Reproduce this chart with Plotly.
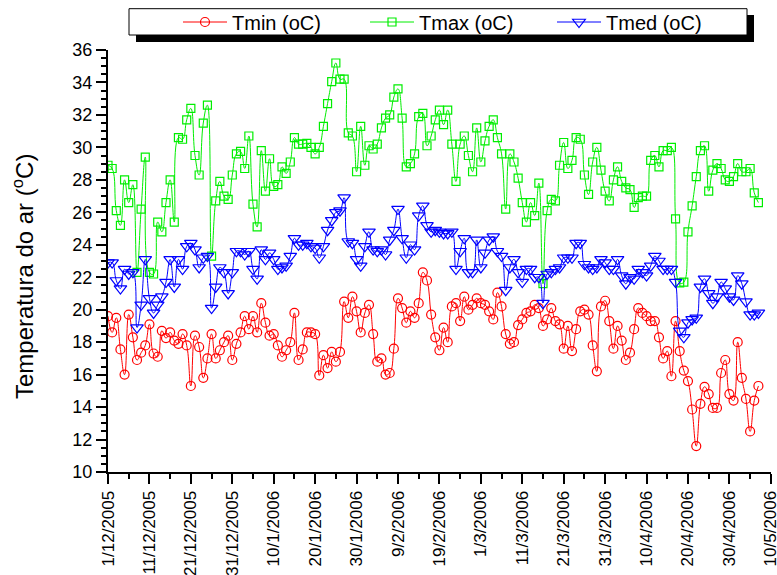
import pandas as pd
import plotly.graph_objects as go

# ---------------- data ----------------
start_date = "2005-12-01"
tmin = [19.6, 18.6, 19.5, 17.55, 16.0, 19.7, 18.3, 16.9, 17.35, 17.8,
        19.1, 17.3, 17.1, 18.7, 18.25, 18.6, 18.1, 17.9, 18.5, 17.8,
        15.3, 18.4, 17.7, 15.8, 17.0, 18.5, 17.0, 17.5, 18.0, 18.4,
        16.9, 17.9, 18.6, 19.6, 18.8, 19.6, 18.6, 20.4, 19.2, 18.4,
        18.5, 17.8, 17.1, 17.5, 18.0, 19.8, 16.9, 17.55, 18.6, 18.6,
        18.5, 15.95, 17.2, 16.4, 17.4, 16.8, 17.4, 20.5, 19.5, 20.8,
        19.9, 18.6, 19.8, 20.3, 18.5, 16.8, 17.0, 16.0, 16.1, 17.6,
        20.7, 20.1, 19.2, 19.9, 19.5, 20.4, 22.3, 21.8, 19.7, 18.3,
        17.5, 18.9, 18.0, 20.2, 20.4, 19.3, 20.8, 20.0, 20.3, 20.7,
        20.4, 20.3, 19.9, 19.4, 21.05, 20.2, 18.5, 17.9, 18.0, 19.05,
        19.4, 19.8, 19.9, 20.3, 20.1, 19.0, 19.4, 20.1, 19.3, 19.1,
        17.6, 19.0, 17.45, 18.8, 19.9, 20.0, 19.7, 17.8, 16.2, 20.2,
        20.55, 19.3, 17.6, 19.0, 18.1, 16.9, 17.35, 18.8, 20.1, 19.8,
        19.6, 19.3, 19.3, 18.3, 17.0, 17.45, 15.9, 19.3, 17.45, 16.25,
        15.6, 13.85, 11.6, 14.2, 15.25, 14.8, 13.95, 13.95, 16.1, 16.9,
        14.8, 14.4, 18.0, 15.8, 14.5, 12.5, 14.4, 15.3]

tmax = [28.9, 28.7, 26.1, 25.2, 28.0, 26.6, 27.7, 22.3, 26.2, 29.4,
        22.3, 22.2, 25.4, 24.8, 26.6, 28.0, 25.4, 30.6, 30.5, 31.7,
        32.4, 29.5, 28.3, 31.5, 32.6, 23.3, 26.7, 27.9, 27.0, 26.8,
        28.3, 29.6, 29.75, 28.7, 30.7, 26.5, 25.1, 29.8, 27.3, 29.3,
        27.6, 27.7, 28.8, 28.4, 29.1, 30.6, 30.2, 30.2, 30.25, 30.0,
        29.6, 30.0, 31.3, 32.7, 34.05, 35.2, 34.2, 34.2, 30.9, 30.7,
        28.5, 31.3, 28.9, 30.1, 29.9, 30.2, 31.2, 31.8, 32.0, 33.1,
        33.6, 31.8, 28.8, 29.0, 29.6, 31.9, 32.1, 30.1, 30.7, 31.7,
        32.3, 31.4, 32.3, 30.2, 27.9, 30.2, 30.7, 29.5, 28.5, 31.2,
        29.1, 30.4, 31.3, 31.7, 30.6, 29.6, 26.2, 29.6, 29.1, 28.1,
        26.6, 25.4, 26.6, 25.8, 27.8, 21.6, 26.1, 26.8, 26.7, 28.9,
        30.3, 28.7, 29.2, 30.6, 30.5, 28.3, 27.1, 29.1, 30.0, 28.6,
        27.3, 26.7, 28.0, 28.8, 27.9, 27.5, 27.4, 26.3, 26.9, 27.0,
        27.0, 29.2, 29.5, 28.8, 29.8, 29.8, 30.0, 25.6, 21.65, 21.7,
        24.8, 26.4, 28.2, 29.8, 30.1, 27.3, 28.6, 29.0, 28.7, 28.0,
        27.9, 28.2, 29.0, 28.5, 28.5, 28.7, 27.2, 26.6]

tmed = [22.9, 22.9, 21.8, 21.3, 22.5, 22.2, 22.3, 18.9, 20.3, 23.1,
        20.7, 19.8, 20.3, 20.8, 21.7, 23.1, 21.4, 23.1, 22.5, 23.9,
        24.1, 23.7, 22.6, 23.2, 23.3, 20.1, 21.4, 22.6, 22.3, 21.0,
        22.3, 23.6, 23.6, 23.4, 23.6, 22.5, 21.9, 23.7, 23.1, 23.5,
        23.1, 22.5, 22.6, 22.7, 23.3, 24.4, 24.0, 24.0, 24.1, 23.9,
        23.8, 23.2, 23.9, 24.9, 25.5, 26.0, 26.1, 26.9, 24.2, 24.1,
        23.1, 22.7, 23.9, 24.8, 23.7, 23.6, 23.7, 23.4, 24.3, 24.9,
        26.2, 24.4, 23.2, 24.0, 23.7, 25.8, 26.4, 25.2, 24.8, 24.9,
        24.8, 24.7, 24.7, 24.8, 22.5, 23.6, 24.4, 22.3, 22.3, 24.3,
        22.6, 23.5, 24.3, 24.5, 23.6, 23.3, 21.2, 22.6, 23.1, 22.3,
        21.7, 22.5, 22.5, 22.0, 22.0, 20.4, 22.2, 22.3, 22.5, 22.6,
        23.2, 23.2, 23.2, 24.1, 24.1, 22.8, 22.6, 22.5, 22.6, 23.1,
        22.9, 22.5, 22.5, 23.1, 22.1, 21.6, 22.0, 21.9, 22.5, 22.3,
        22.1, 22.7, 23.3, 23.0, 22.5, 22.5, 22.5, 21.7, 18.7, 18.3,
        19.2, 19.4, 19.5, 21.4, 21.9, 21.0, 20.4, 20.8, 21.7, 21.3,
        20.8, 20.6, 22.1, 21.6, 20.5, 19.7, 19.7, 19.8]

series_names = ["Tmin (oC)", "Tmax (oC)", "Tmed (oC)"]
x_first_tick = "2005-12-01"
x_last_tick = "2006-05-10"
y_range = [10, 36]
y_title = "Temperatura do ar (<sup>o</sup>C)"

dates = pd.date_range(start_date, periods=len(tmin), freq="D")
tick_dates = pd.date_range(x_first_tick, x_last_tick, freq="10D")
tick_text = [f"{d.day}/{d.month}/{d.year}" for d in tick_dates]
minor_dates = pd.date_range(x_first_tick, x_last_tick, freq="5D")
x_range = [pd.Timestamp(x_first_tick), pd.Timestamp(x_last_tick) + pd.Timedelta(hours=1)]

# ---------------- layout helpers ----------------
W, H = 777, 575
L, R, T, B = 108, 6, 50, 103
PW, PH = W - L - R, H - T - B
FONT = "Liberation Sans, Arial, sans-serif"


def px_x(px):
    return (px - L) / PW


def px_y(py):
    return (H - B - py) / PH


fig = go.Figure()
styles = [
    ("#ff0000", "circle-open", 9),
    ("#00ee00", "square-open", 8),
    ("#0000ff", "triangle-down-open", 11),
]
for name, ys, (col, sym, sz) in zip(series_names, [tmin, tmax, tmed], styles):
    fig.add_trace(go.Scatter(
        x=dates, y=ys, name=name, mode="lines+markers",
        line=dict(color=col, width=1, shape="spline", smoothing=1.3),
        marker=dict(symbol=sym, size=sz, color=col, line=dict(color=col, width=1.2)),
    ))

# legend box with shadow
fig.add_shape(type="rect", xref="paper", yref="paper",
              x0=px_x(136), x1=px_x(754), y0=px_y(42), y1=px_y(15),
              fillcolor="black", line=dict(width=0), layer="above")
fig.add_shape(type="rect", xref="paper", yref="paper",
              x0=px_x(129), x1=px_x(747), y0=px_y(35), y1=px_y(8.7),
              fillcolor="white", line=dict(color="black", width=1), layer="above")

fig.add_annotation(text=y_title, xref="paper", yref="paper",
                   x=px_x(23), y=px_y(277), textangle=-90, showarrow=False,
                   xanchor="center", yanchor="middle",
                   font=dict(family=FONT, size=24, color="black"))

fig.update_layout(
    width=W, height=H,
    margin=dict(l=L, r=R, t=T, b=B, autoexpand=False),
    paper_bgcolor="white", plot_bgcolor="white",
    font=dict(family=FONT, size=18, color="black"),
    showlegend=True,
    legend=dict(orientation="h", x=px_x(178), xanchor="left",
                y=px_y(22), yanchor="middle",
                bgcolor="rgba(0,0,0,0)", borderwidth=0,
                entrywidth=128, entrywidthmode="pixels", itemwidth=44,
                font=dict(family=FONT, size=20, color="black")),
)
fig.update_xaxes(
    type="date", range=x_range, showgrid=False, zeroline=False,
    showline=True, linecolor="black", linewidth=2,
    tickmode="array", tickvals=tick_dates, ticktext=tick_text,
    tickangle=-90, ticks="outside", ticklen=10, tickwidth=2, tickcolor="black",
    ticklabeloverflow="allow",
    tickfont=dict(family=FONT, size=17, color="black"),
    minor=dict(tickmode="array", tickvals=minor_dates, ticks="outside",
               ticklen=5, tickwidth=2, tickcolor="black", showgrid=False),
)
fig.update_yaxes(
    range=y_range, showgrid=False, zeroline=False,
    showline=True, linecolor="black", linewidth=2,
    tickmode="linear", tick0=10, dtick=2,
    ticks="outside", ticklen=10, tickwidth=2, tickcolor="black",
    tickfont=dict(family=FONT, size=18, color="black"),
    minor=dict(dtick=0.5, ticks="outside", ticklen=5, tickwidth=2,
               tickcolor="black", showgrid=False),
)

fig.write_html("out.html")
